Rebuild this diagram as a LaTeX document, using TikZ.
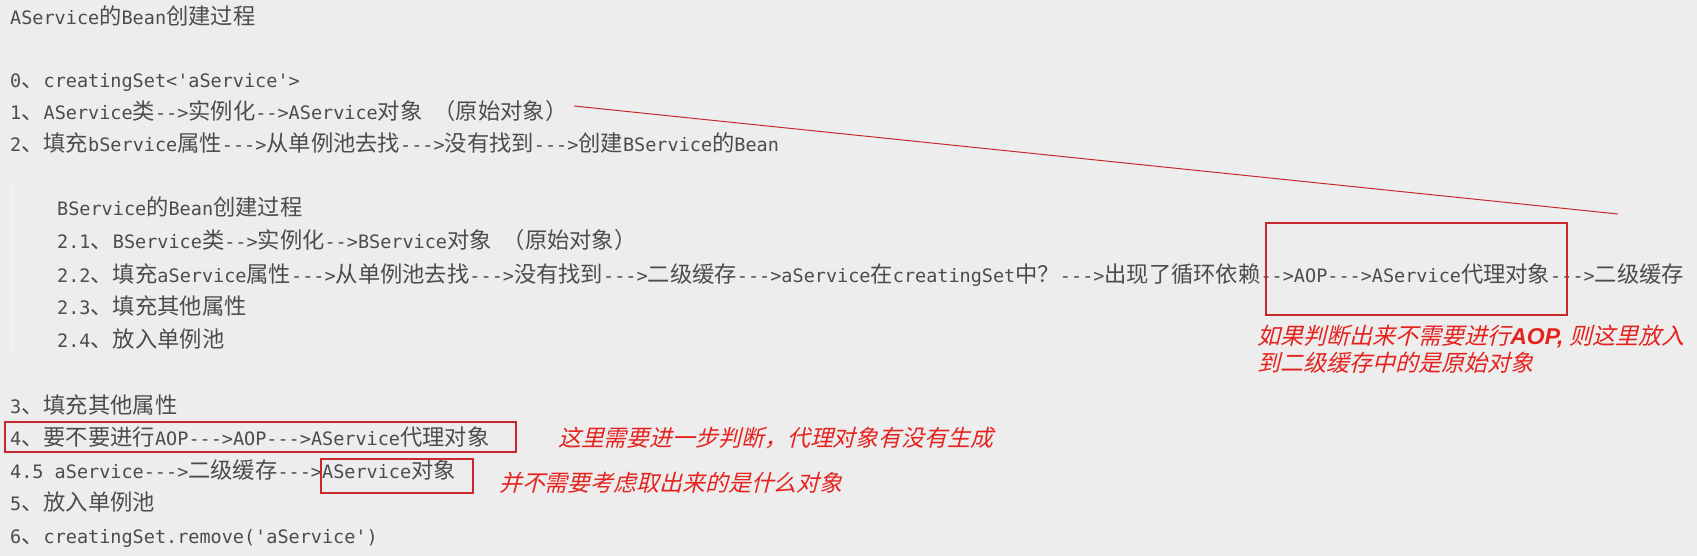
\documentclass[tikz,border=0pt]{standalone}
\usepackage{fontspec}
\newfontfamily\monof{DejaVu Sans Mono}
\newfontfamily\cjkf{Noto Sans CJK SC}[Scale=1.205]
\newfontfamily\cjkitf{Noto Sans CJK SC}[Scale=1.205,FakeSlant=0.25]
\newfontfamily\sansbi{Liberation Sans}[Scale=1.2]
\def\latinsw{\monof}
\def\cjksw{\cjkf}
\newXeTeXintercharclass\CJKcls
\def\setcjkrange#1#2{\count255=#1\relax\loop\XeTeXcharclass\count255=\CJKcls\relax\advance\count255 by 1\relax\ifnum\count255<#2\relax\repeat}
\setcjkrange{"3000}{"3040}
\setcjkrange{"4E00}{"A000}
\setcjkrange{"FF00}{"FFF0}
\XeTeXinterchartoks 0 \CJKcls={\cjksw}
\XeTeXinterchartoks 4095 \CJKcls={\cjksw}
\XeTeXinterchartoks \CJKcls 0={\latinsw}
\XeTeXinterchartoks \CJKcls 4095={\latinsw}
\XeTeXinterchartoks 4095 0={\latinsw}
\definecolor{bg}{HTML}{EDEDED}
\definecolor{txtgray}{HTML}{4C4C4C}
\definecolor{notered}{HTML}{E5231E}
\definecolor{boxred}{HTML}{C62A2F}
\definecolor{stripe}{HTML}{F3F3F3}
\tikzset{
  txt/.style={anchor=base west, inner sep=0pt, text=txtgray, font=\fontsize{18.5}{22}\selectfont},
  rednote/.style={anchor=base west, inner sep=0pt, text=notered,
    font={\fontsize{#1}{24}\selectfont\def\cjksw{\cjkitf\mdseries\upshape}\def\latinsw{\sansbi\bfseries\itshape}}},
  rednote/.default=19,
  redbox/.style={draw=boxred, line width=1.2pt},
  redline/.style={draw=boxred, line width=1pt},
}
\begin{document}
\XeTeXinterchartokenstate=1
\begin{tikzpicture}[x=1pt,y=-1pt]
\fill[bg] (0,0) rectangle (1697,556);
\useasboundingbox (0,0) rectangle (1697,556);
\draw[stripe, line width=1.2pt] (12,182) -- (12,354);
% main text
\node[txt] (title) at (10,25) {AService的Bean创建过程};
\node[txt] (l0) at (10,88) {0、creatingSet<'aService'>};
\node[txt] (l1) at (10,119.5) {1、AService类-->实例化-->AService对象 （原始对象）};
\node[txt] (l2) at (10,152) {2、填充bService属性--->从单例池去找--->没有找到--->创建BService的Bean};
\node[txt] (b0) at (57,216) {BService的Bean创建过程};
\node[txt] (b1) at (57,248) {2.1、BService类-->实例化-->BService对象 （原始对象）};
\node[txt] (b2) at (57,282) {2.2、填充aService属性--->从单例池去找--->没有找到--->二级缓存--->aService在creatingSet中？--->出现了循环依赖-->AOP--->AService代理对象--->二级缓存};
\node[txt] (b3) at (57,314) {2.3、填充其他属性};
\node[txt] (b4) at (57,347) {2.4、放入单例池};
\node[txt] (l3) at (10,413) {3、填充其他属性};
\node[txt] (l4) at (10,445) {4、要不要进行AOP--->AOP--->AService代理对象};
\node[txt] (l45) at (10,478) {4.5 aService--->二级缓存--->AService对象};
\node[txt] (l5) at (10,510) {5、放入单例池};
\node[txt] (l6) at (10,543) {6、creatingSet.remove('aService')};
% red notes
\node[rednote=19.1] (n1a) at (1257,344) {如果判断出来不需要进行AOP, 则这里放入};
\node[rednote=19.1] (n1b) at (1257,371) {到二级缓存中的是原始对象};
\node[rednote] (n2) at (558,446) {这里需要进一步判断，代理对象有没有生成};
\node[rednote] (n3) at (499,491) {并不需要考虑取出来的是什么对象};
% red boxes
\coordinate (bxAtl) at (1266,223); \coordinate (bxAbr) at (1567,315);
\coordinate (bxBtl) at (5,422);    \coordinate (bxBbr) at (516,452);
\coordinate (bxCtl) at (321,459);  \coordinate (bxCbr) at (473,493);
\draw[redbox] (bxAtl) rectangle (bxAbr);
\draw[redbox] (bxBtl) rectangle (bxBbr);
\draw[redbox] (bxCtl) rectangle (bxCbr);
% red line
\coordinate (lnS) at (574,106);
\coordinate (lnE) at (1618,214);
\draw[redline] (lnS) -- (lnE);
\end{tikzpicture}
\end{document}
